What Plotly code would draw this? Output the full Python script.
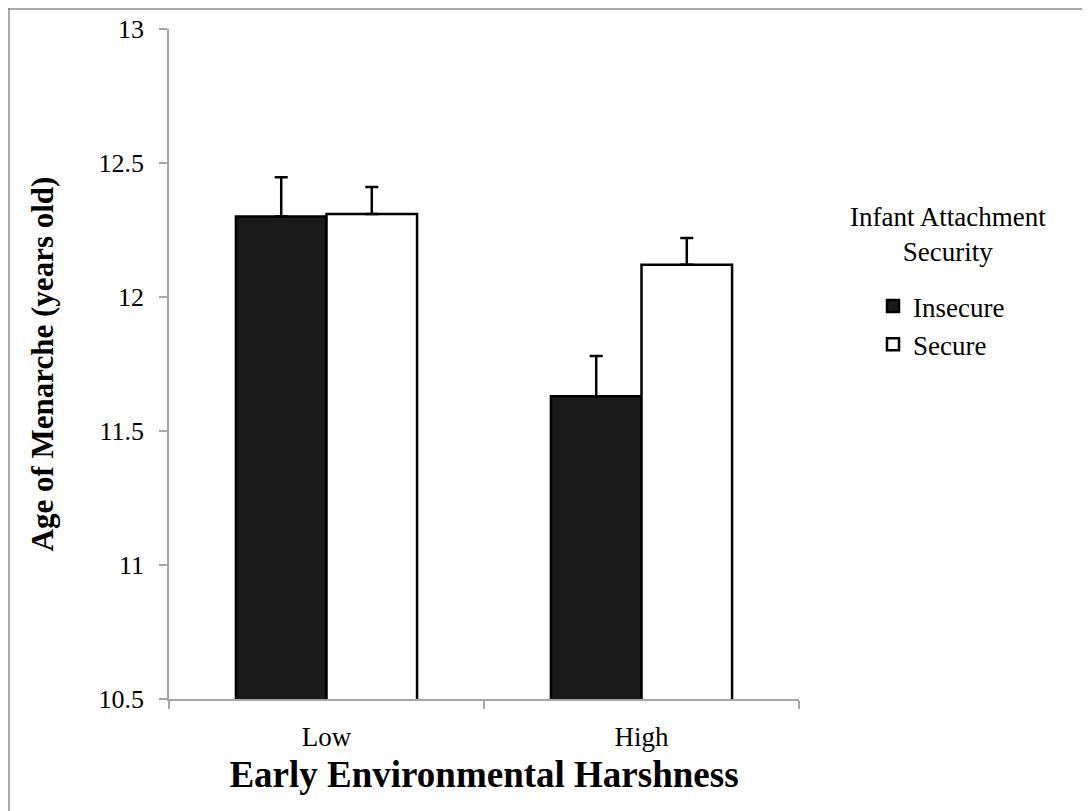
import plotly.graph_objects as go

categories = ["Low", "High"]
insecure = [12.30, 11.63]
secure = [12.31, 12.12]
insecure_err = [0.147, 0.15]
secure_err = [0.10, 0.10]
ytick_vals = [10.5, 11, 11.5, 12, 12.5, 13]
ytick_text = ["10.5", "11", "11.5", "12", "12.5", "13"]

FONT = "Liberation Serif"
AXIS_GRAY = "#a6a6a6"

fig = go.Figure()
fig.add_trace(go.Bar(
    name="Insecure", x=categories, y=insecure,
    marker=dict(color="#1a1a1a", line=dict(color="black", width=2.5)),
    error_y=dict(type="data", symmetric=False, array=insecure_err,
                 arrayminus=[0] * len(insecure_err),
                 color="black", thickness=2.5, width=6.5),
))
fig.add_trace(go.Bar(
    name="Secure", x=categories, y=secure,
    marker=dict(color="white", line=dict(color="black", width=2.5)),
    error_y=dict(type="data", symmetric=False, array=secure_err,
                 arrayminus=[0] * len(secure_err),
                 color="black", thickness=2.5, width=6.5),
))

# page body adds 8 px offset; margins expressed in figure coordinates
OFF = 8
L, R, T, B = 161, 299, 21, 120
W, H = 1090, 811
pw, ph = W - L - R, H - T - B

def px(x):  # screenshot x -> paper
    return (x - OFF - L) / pw

def py(y):  # screenshot y -> paper
    return (H - B - (y - OFF)) / ph

fig.update_layout(
    width=W, height=H,
    margin=dict(l=L, r=R, t=T, b=B, autoexpand=False),
    paper_bgcolor="white", plot_bgcolor="white",
    font=dict(family=FONT, color="black", size=26),
    barmode="group", bargap=0.425, bargroupgap=0,
    showlegend=True,
    legend=dict(x=px(873), y=py(282), xanchor="left", yanchor="top",
                font=dict(family=FONT, size=27, color="black"),
                bgcolor="rgba(0,0,0,0)", tracegroupgap=0),
    xaxis=dict(
        type="category", showline=True, linecolor=AXIS_GRAY, linewidth=1.5,
        ticks="outside", tickson="boundaries", ticklen=8, tickcolor=AXIS_GRAY,
        tickwidth=1.5, showgrid=False, zeroline=False,
        tickfont=dict(family=FONT, size=27), ticklabelstandoff=13,
        title=dict(text="<b>Early Environmental Harshness</b>",
                   font=dict(family=FONT, size=37), standoff=10),
    ),
    yaxis=dict(
        range=[10.5, 13], tickvals=ytick_vals, ticktext=ytick_text,
        showline=True, linecolor=AXIS_GRAY, linewidth=1.5,
        ticks="outside", ticklen=8, tickcolor=AXIS_GRAY, tickwidth=1.5,
        showgrid=False, zeroline=False,
        tickfont=dict(family=FONT, size=26), ticklabelstandoff=10,
        title=dict(text="<b>Age of Menarche (years old)</b>",
                   font=dict(family=FONT, size=31), standoff=36),
    ),
    annotations=[
        dict(text="Infant Attachment<br>Security", x=px(948), y=py(235),
             xref="paper", yref="paper", xanchor="center", yanchor="middle",
             showarrow=False, align="center",
             font=dict(family=FONT, size=27, color="black")),
    ],
    shapes=[
        dict(type="line", xref="paper", yref="paper", x0=px(OFF), x1=px(W + OFF),
             y0=py(OFF + 1), y1=py(OFF + 1), line=dict(color="#8c8c8c", width=1.5)),
        dict(type="line", xref="paper", yref="paper", x0=px(OFF + 1), x1=px(OFF + 1),
             y0=py(OFF), y1=py(H + OFF), line=dict(color="#8c8c8c", width=1.5)),
    ],
)

fig.write_html("out.html")
